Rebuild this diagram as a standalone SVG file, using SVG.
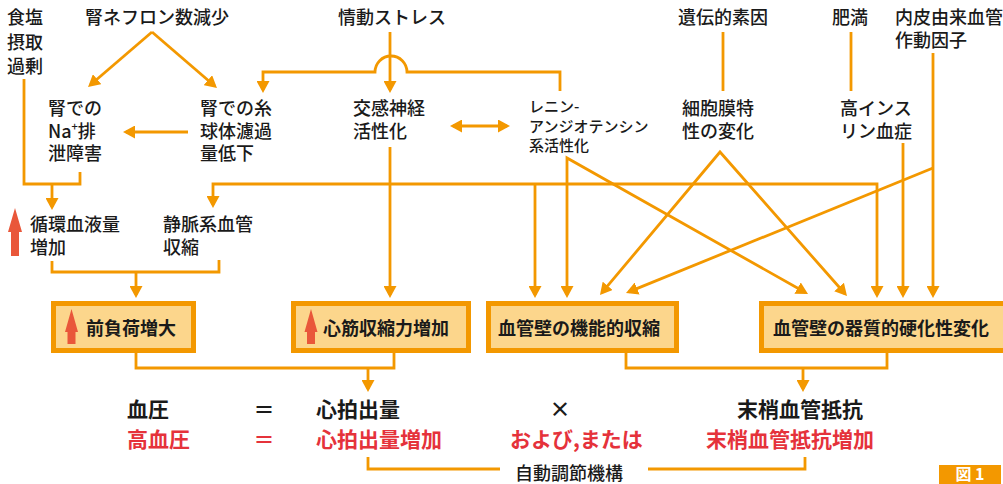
<svg xmlns="http://www.w3.org/2000/svg" width="1003" height="484" viewBox="0 0 1003 484">
<defs>
<marker id="ah" markerUnits="userSpaceOnUse" markerWidth="12" markerHeight="13" viewBox="0 0 12 13" refX="9" refY="6.5" orient="auto-start-reverse">
<path d="M0,0 L12,6.5 L0,13 z" fill="#F39800"/>
</marker>
<style>
.t{font-family:"Noto Sans CJK JP","Noto Sans",sans-serif;font-size:18px;fill:#1a1a1a;font-weight:500}
.s{font-size:15px}
.bx{fill:#FCD68C;stroke:#F39800;stroke-width:5}
.bt{font-family:"Noto Sans CJK JP","Noto Sans",sans-serif;font-size:18px;font-weight:bold;fill:#1a1a1a}
.eq{font-family:"Noto Sans CJK JP","Noto Sans",sans-serif;font-size:21px;font-weight:bold;fill:#1a1a1a}
.red{fill:#E5323B}
.c path{fill:none;stroke:#F39800;stroke-width:2.8}
.ar{marker-end:url(#ah)}
.ar2{marker-start:url(#ah);marker-end:url(#ah)}
.up{fill:#E9573A}
</style>
</defs>
<rect width="1003" height="484" fill="#ffffff"/>

<g id="connectors" class="c">
<path d="M24,79 V184 H80 V172"/>
<path class="ar" d="M52,184 V207"/>
<path class="ar" d="M152,32 L90.3,85"/>
<path class="ar" d="M152,32 L214.7,86"/>
<path class="ar" d="M188,132 H126"/>
<path class="ar" d="M560,91 V72 H407 A16,16 0 0 0 375,72 H263 V90"/>
<path class="ar" d="M390,32 V90"/>
<path class="ar2" d="M453,126 H507"/>
<path class="ar" d="M390,147 V295"/>
<path class="ar2" d="M877,295 V184 H213 V205"/>
<path class="ar" d="M535,184 V295"/>
<path class="ar2" d="M567,295 V158 L805.4,292.5"/>
<path d="M723,32 V91"/>
<path class="ar2" d="M601.9,292.7 L720,152 L845,293.8"/>
<path d="M851,32 V91"/>
<path class="ar" d="M903,143 V295"/>
<path class="ar" d="M933,53 V295"/>
<path class="ar" d="M933,168 L628.8,291.9"/>
<path d="M52,261 V272 H219 V260"/>
<path class="ar" d="M136,272 V295"/>
<path d="M136,353 V368 H394 V353"/>
<path class="ar" d="M368,368 V389"/>
<path d="M626,353 V368 H887 V353"/>
<path class="ar" d="M803,368 V389"/>
<path d="M368,457 V469 H500"/>
<path d="M648,469 H805 V457"/>
</g>

<g id="n-salt"><text class="t" x="7" y="24">食塩<tspan x="7" dy="24.5">摂取</tspan><tspan x="7" dy="24.5">過剰</tspan></text></g>
<g id="n-nephron"><text class="t" x="85" y="24">腎ネフロン数減少</text></g>
<g id="n-stress"><text class="t" x="338" y="24">情動ストレス</text></g>
<g id="n-genetic"><text class="t" x="678" y="24">遺伝的素因</text></g>
<g id="n-obesity"><text class="t" x="832" y="24">肥満</text></g>
<g id="n-endo"><text class="t" x="895" y="24">内皮由来血管<tspan x="895" dy="23">作動因子</tspan></text></g>

<g id="n-na"><text class="t" x="48" y="114.5">腎での<tspan x="48" dy="23">Na</tspan><tspan font-size="11" dy="-7">+</tspan><tspan dy="7">排</tspan><tspan x="48" dy="22.5">泄障害</tspan></text></g>
<g id="n-gfr"><text class="t" x="200" y="114.5">腎での糸<tspan x="200" dy="23">球体濾過</tspan><tspan x="200" dy="22.5">量低下</tspan></text></g>
<g id="n-sym"><text class="t" x="353" y="114.5">交感神経<tspan x="353" dy="23">活性化</tspan></text></g>
<g id="n-raas"><text class="t s" x="529" y="112">レニン-<tspan x="529" dy="20">アンジオテンシン</tspan><tspan x="529" dy="19">系活性化</tspan></text></g>
<g id="n-membrane"><text class="t" x="682" y="114.5">細胞膜特<tspan x="682" dy="23">性の変化</tspan></text></g>
<g id="n-insulin"><text class="t" x="840" y="114.5">高インス<tspan x="840" dy="23">リン血症</tspan></text></g>

<g id="n-volume"><polygon class="up" points="15,208 22,232 19,232 19,256 11,256 11,232 8,232"/><text class="t" x="30" y="231">循環血液量<tspan x="30" dy="23">増加</tspan></text></g>
<g id="n-venous"><text class="t" x="163" y="231">静脈系血管<tspan x="163" dy="23">収縮</tspan></text></g>

<g id="n-preload"><rect class="bx" x="53.5" y="303.5" width="140" height="47"/><polygon class="up" points="71.5,309 78,332 75.5,332 75.5,344 67.5,344 67.5,332 65,332"/><text class="bt" x="86" y="335">前負荷増大</text></g>
<g id="n-contract"><rect class="bx" x="293.5" y="303.5" width="175" height="47"/><polygon class="up" points="311,309 317.5,332 315,332 315,344 307,344 307,332 304.5,332"/><text class="bt" x="323" y="335">心筋収縮力増加</text></g>
<g id="n-func"><rect class="bx" x="488.5" y="303.5" width="188" height="47"/><text class="bt" x="498" y="335">血管壁の機能的収縮</text></g>
<g id="n-organic"><rect class="bx" x="761.5" y="303.5" width="260" height="47"/><text class="bt" x="773" y="335">血管壁の器質的硬化性変化</text></g>

<g id="n-formula">
<text class="eq" x="127" y="417">血圧</text>
<text class="eq" x="264" y="417" text-anchor="middle">＝</text>
<text class="eq" x="316" y="417">心拍出量</text>
<text class="eq" x="560" y="417" text-anchor="middle">×</text>
<text class="eq" x="737" y="417">末梢血管抵抗</text>
<text class="eq red" x="127" y="447">高血圧</text>
<text class="eq red" x="264" y="447" text-anchor="middle">＝</text>
<text class="eq red" x="316" y="447">心拍出量増加</text>
<text class="eq red" x="510" y="447">および,または</text>
<text class="eq red" x="706" y="447">末梢血管抵抗増加</text>
</g>
<g id="n-auto"><text class="t" x="569" y="480" text-anchor="middle">自動調節機構</text></g>
<g id="n-fig"><rect x="939" y="465" width="62" height="19" fill="#F39800"/><text x="970" y="480" text-anchor="middle" font-family="Noto Sans CJK JP, sans-serif" font-size="16" font-weight="bold" fill="#ffffff">図 1</text></g>
</svg>
